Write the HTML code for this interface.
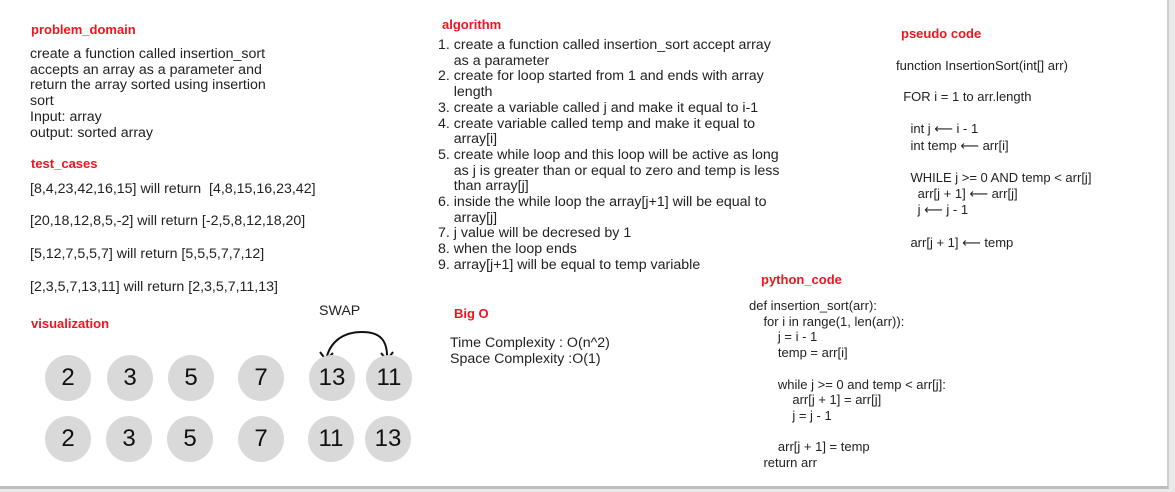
<!DOCTYPE html><html><head><style>
body{margin:0;width:1175px;height:492px;background:#e9e9e9;position:relative;overflow:hidden;font-family:"Liberation Sans",sans-serif;color:#222;}
#f{position:absolute;left:0;top:0;width:1167px;height:486px;background:#fff;border-right:2px solid #cfcfcf;border-bottom:3px solid #bdbdbd;}
.t{position:absolute;white-space:pre;font-size:14.2px;line-height:15.7px;}
.h{position:absolute;color:#f0141e;font-weight:bold;font-size:13px;}
.c{position:absolute;width:46px;height:46px;border-radius:50%;background:#d9d9d9;font-size:24px;line-height:46px;text-align:center;color:#111;font-family:"Liberation Sans",sans-serif;}
.a{font-family:"DejaVu Sans",sans-serif;font-size:13px;}
</style></head><body><div id="f"></div>
<div class="h" style="left:31px;top:22px">problem_domain</div>
<div class="t" style="left:30px;top:47px">create a function called insertion_sort
accepts an array as a parameter and
return the array sorted using insertion
sort
Input: array
output: sorted array</div>
<div class="h" style="left:31px;top:156px">test_cases</div>
<div class="t" style="left:30px;top:182px">[8,4,23,42,16,15] will return  [4,8,15,16,23,42]</div>
<div class="t" style="left:30px;top:214px">[20,18,12,8,5,-2] will return [-2,5,8,12,18,20]</div>
<div class="t" style="left:30px;top:247px">[5,12,7,5,5,7] will return [5,5,5,7,7,12]</div>
<div class="t" style="left:30px;top:280px">[2,3,5,7,13,11] will return [2,3,5,7,11,13]</div>
<div class="h" style="left:31px;top:316px">visualization</div>
<div class="t" style="left:319px;top:304px">SWAP</div>
<svg style="position:absolute;left:0;top:0" width="1175" height="492"><path d="M326 360 C330 340,345 332,362 332 C380 332,388 340,387 360 M320 352 L326 360 L333 353 M381 353 L387 360 L393 352" fill="none" stroke="#111" stroke-width="2"/></svg>
<div class="c" style="left:45px;top:355px">2</div><div class="c" style="left:107px;top:355px">3</div><div class="c" style="left:168px;top:355px">5</div><div class="c" style="left:238px;top:355px">7</div><div class="c" style="left:309px;top:355px">13</div><div class="c" style="left:366px;top:355px">11</div>
<div class="c" style="left:45px;top:416px">2</div><div class="c" style="left:106px;top:416px">3</div><div class="c" style="left:167px;top:416px">5</div><div class="c" style="left:238px;top:416px">7</div><div class="c" style="left:308px;top:416px">11</div><div class="c" style="left:365px;top:416px">13</div>
<div class="h" style="left:442px;top:17px">algorithm</div>
<div class="t" style="left:438px;top:38px">1. create a function called insertion_sort accept array
    as a parameter
2. create for loop started from 1 and ends with array
    length
3. create a variable called j and make it equal to i-1
4. create variable called temp and make it equal to
    array[i]
5. create while loop and this loop will be active as long
    as j is greater than or equal to zero and temp is less
    than array[j]
6. inside the while loop the array[j+1] will be equal to
    array[j]
7. j value will be decresed by 1
8. when the loop ends
9. array[j+1] will be equal to temp variable</div>
<div class="h" style="left:454px;top:306px">Big O</div>
<div class="t" style="left:450px;top:336px">Time Complexity : O(n^2)
Space Complexity :O(1)</div>
<div class="h" style="left:901px;top:26px">pseudo code</div>
<div class="t" style="left:896px;top:58px;font-size:13px">function InsertionSort(int[] arr)

  FOR i = 1 to arr.length

    int j <span class="a">⟵</span> i - 1
    int temp <span class="a">⟵</span> arr[i]

    WHILE j &gt;= 0 AND temp &lt; arr[j]
      arr[j + 1] <span class="a">⟵</span> arr[j]
      j <span class="a">⟵</span> j - 1

    arr[j + 1] <span class="a">⟵</span> temp</div>
<div class="h" style="left:761px;top:272px">python_code</div>
<div class="t" style="left:749px;top:298px;font-size:13px">def insertion_sort(arr):
    for i in range(1, len(arr)):
        j = i - 1
        temp = arr[i]

        while j &gt;= 0 and temp &lt; arr[j]:
            arr[j + 1] = arr[j]
            j = j - 1

        arr[j + 1] = temp
    return arr</div>
</body></html>
